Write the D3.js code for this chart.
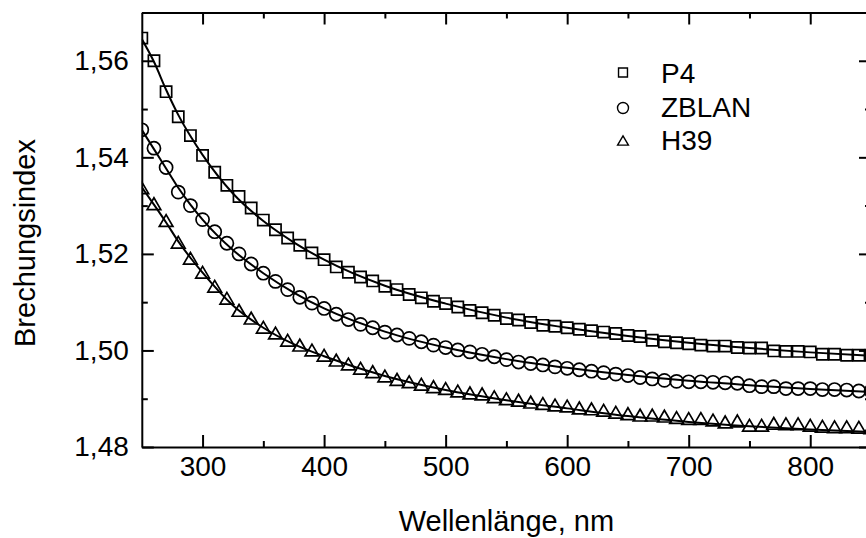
<!DOCTYPE html>
<html>
<head>
<meta charset="utf-8">
<script src="https://cdnjs.cloudflare.com/ajax/libs/d3/7.8.5/d3.min.js"></script>
<style>
html,body{margin:0;padding:0;background:#fff;}
svg{display:block;font-family:"Liberation Sans",Arial,Helvetica,sans-serif;}
</style>
</head>
<body>
<svg id="chart" width="866" height="538"></svg>
<script>
// ---- data ----
const wavelengths = [250,260,270,280,290,300,310,320,330,340,350,360,370,380,390,400,410,420,430,440,450,460,470,480,490,500,510,520,530,540,550,560,570,580,590,600,610,620,630,640,650,660,670,680,690,700,710,720,730,740,750,760,770,780,790,800,810,820,830,840,850];
const p4 = [1.5647,1.5600,1.5536,1.5484,1.5445,1.5404,1.5369,1.5342,1.5319,1.5295,1.5270,1.5250,1.5233,1.5218,1.5202,1.5188,1.5173,1.5162,1.5152,1.5144,1.5133,1.5126,1.5116,1.5109,1.5102,1.5097,1.5090,1.5083,1.5078,1.5073,1.5066,1.5063,1.5058,1.5052,1.5050,1.5047,1.5044,1.5041,1.5038,1.5035,1.5031,1.5029,1.5021,1.5018,1.5016,1.5014,1.5011,1.5009,1.5009,1.5006,1.5005,1.5005,1.4999,1.4998,1.4998,1.4997,1.4992,1.4992,1.4990,1.4990,1.4990];
const zblan = [1.5457,1.5419,1.5379,1.5328,1.5300,1.5271,1.5246,1.5222,1.5200,1.5179,1.5160,1.5143,1.5126,1.5110,1.5098,1.5087,1.5075,1.5064,1.5054,1.5047,1.5038,1.5032,1.5025,1.5018,1.5011,1.5006,1.5001,1.4997,1.4992,1.4987,1.4981,1.4976,1.4973,1.4970,1.4966,1.4963,1.4960,1.4957,1.4954,1.4951,1.4948,1.4944,1.4941,1.4938,1.4936,1.4935,1.4935,1.4934,1.4933,1.4932,1.4927,1.4925,1.4925,1.4921,1.4921,1.4921,1.4919,1.4919,1.4918,1.4916,1.4916];
const h39 = [1.5337,1.5304,1.5269,1.5224,1.5191,1.5162,1.5133,1.5108,1.5083,1.5067,1.5048,1.5036,1.5021,1.5011,1.5001,1.4990,1.4980,1.4972,1.4963,1.4956,1.4947,1.4940,1.4935,1.4930,1.4925,1.4921,1.4916,1.4912,1.4910,1.4904,1.4900,1.4897,1.4893,1.4890,1.4887,1.4885,1.4881,1.4879,1.4876,1.4872,1.4869,1.4866,1.4866,1.4864,1.4861,1.4859,1.4859,1.4856,1.4852,1.4854,1.4845,1.4845,1.4849,1.4848,1.4848,1.4845,1.4843,1.4842,1.4842,1.4841,1.4840];

// fitted curves
const fitWavelengths = [250,260,270,280,290,300,325,350,375,400,450,500,550,600,650,700,750,800,850];
const p4Fit    = [1.5645,1.5598,1.5540,1.5488,1.5444,1.5405,1.5325,1.5268,1.5224,1.5188,1.5134,1.5097,1.5068,1.5047,1.5030,1.5016,1.5005,1.4996,1.4989];
const zblanFit = [1.5457,1.5417,1.5377,1.5337,1.5302,1.5271,1.5208,1.5160,1.5120,1.5087,1.5039,1.5006,1.4982,1.4964,1.4949,1.4937,1.4928,1.4920,1.4914];
const h39Fit   = [1.5338,1.5302,1.5265,1.5226,1.5192,1.5161,1.5093,1.5047,1.5013,1.4988,1.4947,1.4918,1.4897,1.4880,1.4864,1.4852,1.4843,1.4836,1.4831];

const seriesNames = ["P4","ZBLAN","H39"];
const xTicks = [300,400,500,600,700,800];
const xMinorTicks = [350,450,550,650,750,850];
const yTicks = [1.48,1.50,1.52,1.54,1.56];
const yMinorTicks = [1.49,1.51,1.53,1.55,1.57];
const xTitle = "Wellenlänge, nm";
const yTitle = "Brechungsindex";

// ---- layout ----
const svg = d3.select("#chart");
const L = 141.8, R = 871, T = 12.5, B = 447;
const x = d3.scaleLinear().domain([250,850]).range([L,R]);
const y = d3.scaleLinear().domain([1.48,1.57]).range([B,T]);
const loc = d3.formatLocale({decimal:",",thousands:".",grouping:[3],currency:["","€"]});
const fmt = loc.format(".2f");

svg.append("rect").attr("width",866).attr("height",538).attr("fill","#fff");

// custom bbox-centered triangle
const triType = {draw(ctx,size){const w=Math.sqrt(size)*1.25, h=w*0.86; ctx.moveTo(0,-h/2); ctx.lineTo(w/2,h/2); ctx.lineTo(-w/2,h/2); ctx.closePath();}};
const types = [d3.symbolSquare, d3.symbolCircle, triType];
const sizes = [125, 135, 120];

svg.append("clipPath").attr("id","clip").append("rect")
  .attr("x",L).attr("y",T).attr("width",R-L).attr("height",B-T);

const plot = svg.append("g").attr("clip-path","url(#clip)");

const line = d3.line().x(d=>x(d[0])).y(d=>y(d[1])).curve(d3.curveMonotoneX);
[p4Fit, zblanFit, h39Fit].forEach(f=>{
  plot.append("path").datum(fitWavelengths.map((w,i)=>[w,f[i]]))
    .attr("d",line).attr("fill","none").attr("stroke","#000").attr("stroke-width",2);
});

[p4, zblan, h39].forEach((s,k)=>{
  const sym = d3.symbol().type(types[k]).size(sizes[k]);
  plot.append("g").selectAll("path").data(wavelengths.map((w,i)=>[w,s[i]])).join("path")
    .attr("transform",d=>`translate(${x(d[0])},${y(d[1])})`)
    .attr("d",sym).attr("fill","none").attr("stroke","#000").attr("stroke-width",1.7);
});

// ---- axes ----
function styleAxis(g){
  g.selectAll(".domain").attr("stroke","#000").attr("stroke-width",2);
  g.selectAll(".tick line").attr("stroke","#000").attr("stroke-width",2);
  g.selectAll("text").attr("fill","#000").attr("font-size",28).attr("font-family","Liberation Sans, Arial, sans-serif");
}
const gB = svg.append("g").attr("transform",`translate(0,${B})`)
  .call(d3.axisBottom(x).tickValues(xTicks).tickSizeInner(-12).tickSizeOuter(0).tickPadding(9).tickFormat(d3.format("d")));
styleAxis(gB);
gB.selectAll("text").attr("dy","0.71em");
svg.append("g").attr("transform",`translate(0,${B})`)
  .call(d3.axisBottom(x).tickValues(xMinorTicks).tickSizeInner(-6).tickSizeOuter(0).tickFormat("")).call(styleAxis).select(".domain").remove();

const gT = svg.append("g").attr("transform",`translate(0,${T})`)
  .call(d3.axisTop(x).tickValues(xTicks).tickSizeInner(-12).tickSizeOuter(0).tickFormat(""));
styleAxis(gT);
svg.append("g").attr("transform",`translate(0,${T})`)
  .call(d3.axisTop(x).tickValues(xMinorTicks).tickSizeInner(-6).tickSizeOuter(0).tickFormat("")).call(styleAxis).select(".domain").remove();

const gL = svg.append("g").attr("transform",`translate(${L},0)`)
  .call(d3.axisLeft(y).tickValues(yTicks).tickSizeInner(-12).tickSizeOuter(0).tickPadding(13).tickFormat(fmt));
styleAxis(gL);
svg.append("g").attr("transform",`translate(${L},0)`)
  .call(d3.axisLeft(y).tickValues(yMinorTicks).tickSizeInner(-6).tickSizeOuter(0).tickFormat("")).call(styleAxis).select(".domain").remove();

const gR = svg.append("g").attr("transform",`translate(${R},0)`)
  .call(d3.axisRight(y).tickValues(yTicks).tickSizeInner(-12).tickSizeOuter(0).tickFormat(""));
styleAxis(gR);
svg.append("g").attr("transform",`translate(${R},0)`)
  .call(d3.axisRight(y).tickValues(yMinorTicks).tickSizeInner(-6).tickSizeOuter(0).tickFormat("")).call(styleAxis).select(".domain").remove();

// titles
svg.append("text").attr("x",(L+R)/2).attr("y",531).attr("text-anchor","middle")
  .attr("font-size",29).attr("fill","#000").text(xTitle);
svg.append("text").attr("transform","translate(35,243) rotate(-90)").attr("text-anchor","middle")
  .attr("font-size",29).attr("fill","#000").text(yTitle);

// legend
const legY = [72.5, 108, 140.5];
const legBase = [82.7, 117.3, 150];
const legSizes = [80, 95, 75];
seriesNames.forEach((n,k)=>{
  svg.append("path").attr("transform",`translate(623,${legY[k]})`)
    .attr("d",d3.symbol().type(types[k]).size(legSizes[k])).attr("fill","none").attr("stroke","#000").attr("stroke-width",1.4);
  svg.append("text").attr("x",661).attr("y",legBase[k]).attr("font-size",28).attr("fill","#000").text(n);
});
</script>
</body>
</html>
